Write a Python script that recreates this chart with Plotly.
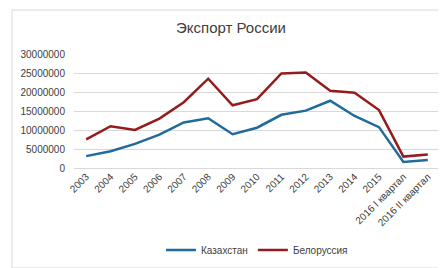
import plotly.graph_objects as go

categories = ["2003", "2004", "2005", "2006", "2007", "2008", "2009", "2010", "2011",
              "2012", "2013", "2014", "2015", "2016 I квартал", "2016 II квартал"]
kazakhstan = [3130000, 4400000, 6350000, 8800000, 12000000, 13100000, 8900000, 10600000,
              14000000, 15100000, 17700000, 13700000, 10750000, 1600000, 2100000]
belarus = [7550000, 11000000, 10000000, 13000000, 17300000, 23500000, 16500000, 18100000,
           24900000, 25100000, 20300000, 19800000, 15250000, 3000000, 3550000]
ytick_vals = [0, 5000000, 10000000, 15000000, 20000000, 25000000, 30000000]
ytick_text = ["0", "5000000", "10000000", "15000000", "20000000", "25000000", "30000000"]

W, H = 446, 268
L, R, T, B = 63, 14, 46, 104
pw, ph = W - L - R, H - T - B

fig = go.Figure()
fig.add_trace(go.Scatter(x=categories, y=kazakhstan, mode="lines", name="Казахстан",
                         line=dict(color="#1F6B9B", width=2.5)))
fig.add_trace(go.Scatter(x=categories, y=belarus, mode="lines", name="Белоруссия",
                         line=dict(color="#941C1C", width=2.5)))

fig.update_layout(
    width=W, height=H,
    margin=dict(l=L, r=R, t=T, b=B, pad=0),
    paper_bgcolor="white", plot_bgcolor="white",
    font=dict(family="Liberation Sans, Arial, sans-serif", size=10, color="#404040"),
    title=dict(text="Экспорт России", x=0.5, xanchor="center", y=1 - 20 / H, yanchor="middle",
               font=dict(size=15, color="#404040")),
    showlegend=True,
    legend=dict(orientation="h", x=0.5, xanchor="center", y=(164 - 249) / ph, yanchor="middle",
                font=dict(size=10, color="#404040"), itemwidth=30, tracegroupgap=0),
    xaxis=dict(type="category", tickangle=-45, showgrid=False, showline=False,
               ticks="", tickfont=dict(size=10), range=[-0.5, len(categories) - 0.5]),
    yaxis=dict(range=[0, 30000000], tickvals=ytick_vals, ticktext=ytick_text,
               showgrid=True, gridcolor="#D9D9D9", gridwidth=1, zeroline=True,
               zerolinecolor="#D9D9D9", zerolinewidth=1, showline=False, ticks="",
               tickfont=dict(size=10), ticklabelstandoff=8),
    shapes=[dict(type="rect", xref="paper", yref="paper",
                 x0=(0.5 - L) / pw, x1=(W - 0.5 - L) / pw,
                 y0=(T + ph - (H - 0.5)) / ph, y1=(T + ph - 0.5) / ph,
                 line=dict(color="#D9D9D9", width=1), fillcolor="rgba(0,0,0,0)")],
)

fig.write_html("out.html")
